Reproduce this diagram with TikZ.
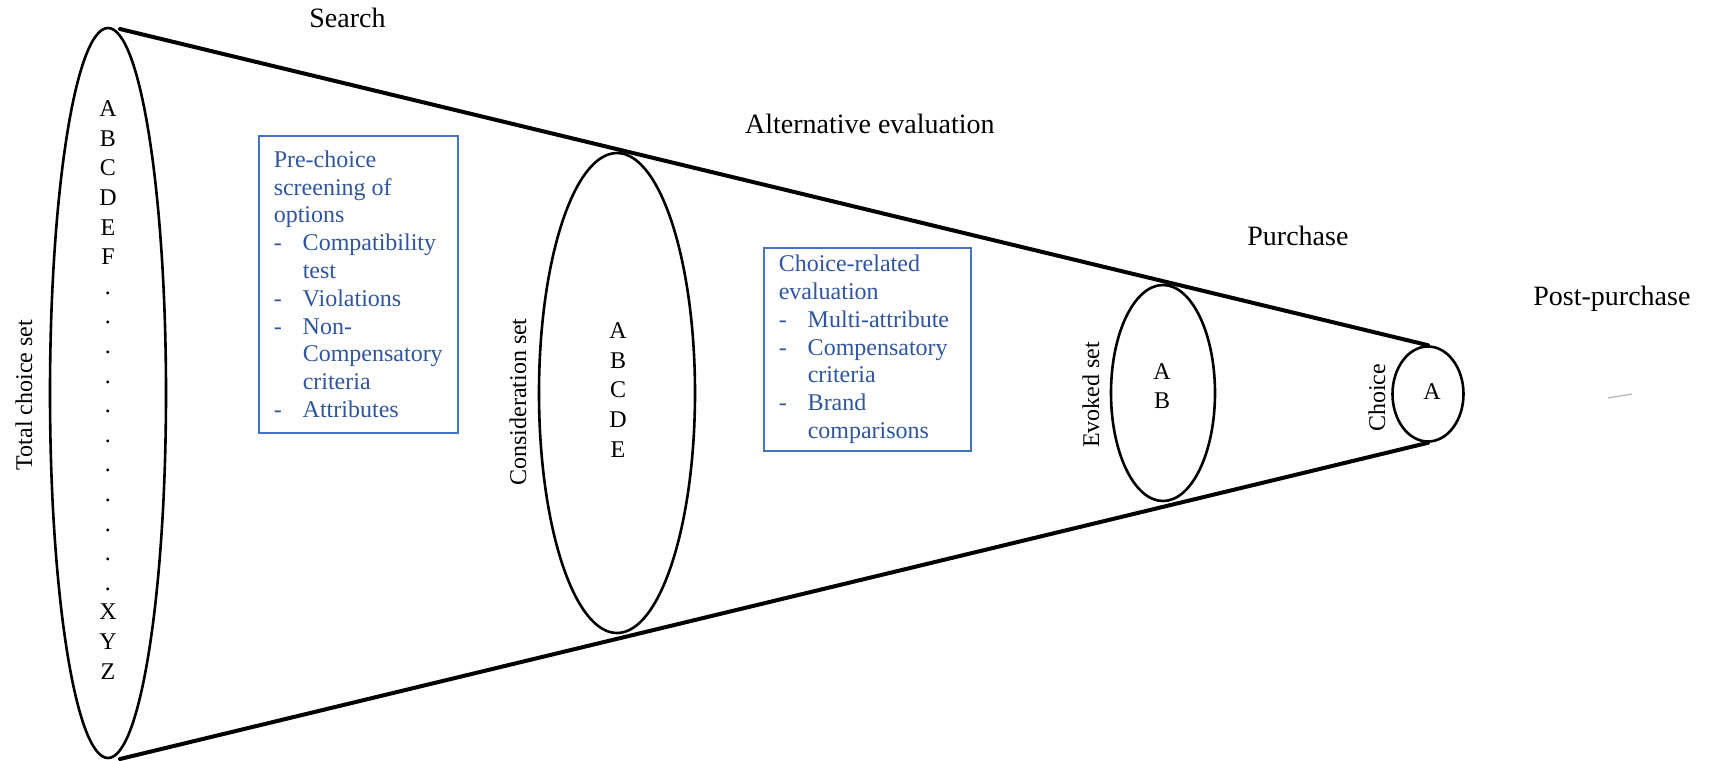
\documentclass[tikz,border=0pt]{standalone}
\usepackage{fontspec}
\setmainfont{Liberation Serif}
\usepackage{xcolor}
\usepackage{tikz}
\usetikzlibrary{shapes.geometric, positioning}
\definecolor{boxblue}{RGB}{68,114,196}
\definecolor{txtblue}{RGB}{47,85,160}
\hyphenpenalty=10000
\newcommand{\dashitem}[1]{\makebox[14.5pt][l]{-}#1}
\newcommand{\contline}[1]{\makebox[14.5pt]{}#1}
\tikzset{
  setring/.style={ellipse, draw=black, line width=1.3pt, inner sep=0pt},
  conewall/.style={line width=2pt, color=black, line cap=round},
  stagelabel/.style={font=\fontsize{14}{16}\selectfont, inner sep=0pt},
  setlabel/.style={font=\fontsize{12}{14}\selectfont, rotate=90, inner sep=0pt},
  itemlist/.style={font=\fontsize{12}{14.8}\selectfont, align=center, inner sep=0pt},
  notebox/.style={rectangle, draw=boxblue, line width=0.75pt, text=txtblue,
    align=flush left, anchor=north west, inner xsep=7.5pt, inner ysep=0pt,
    font=\fontsize{12}{13.9}\selectfont}
}

\begin{document}
\begin{tikzpicture}[x=0.5pt, y=-0.5pt]
  \useasboundingbox (0,0) rectangle (1710,761);

  % Set ellipses
  \node[setring, minimum width=58pt, minimum height=365pt] (total) at (108,393) {};
  \node[setring, minimum width=78pt, minimum height=240pt] (consider) at (617,393) {};
  \node[setring, minimum width=52pt, minimum height=108pt] (evoked) at (1163,393) {};
  \node[setring, minimum width=35.5pt, minimum height=47.5pt] (choice) at (1428,394) {};

  % Funnel walls
  \coordinate (walltop) at (120,29);
  \coordinate (wallbot) at (120,759);
  \draw[conewall] (walltop) -- (choice.north);
  \draw[conewall] (wallbot) -- (choice.south);

  % Members of each set
  \node[itemlist] (totalitems) at (108,390) {A\\B\\C\\D\\E\\F\\.\\.\\.\\.\\.\\.\\.\\.\\.\\.\\.\\X\\Y\\Z};
  \node[itemlist] (consideritems) at (618,390) {A\\B\\C\\D\\E};
  \node[itemlist] (evokeditems) at (1162,386) {A\\B};
  \node[itemlist] (choiceitems) at (1432,392) {A};

  % Set names
  \node[setlabel] (totallabel) at (24,395) {Total choice set};
  \node[setlabel] (considerlabel) at (518,402) {Consideration set};
  \node[setlabel] (evokedlabel) at (1091,395) {Evoked set};
  \node[setlabel] (choicelabel) at (1377,398) {Choice};

  % Stages
  \node[stagelabel, anchor=base west] (search) at (309,27) {Search};
  \node[stagelabel, anchor=base east] (alteval) at (995,133) {Alternative evaluation};
  \node[stagelabel, anchor=base west] (purchase) at (1247,245) {Purchase};
  \node[stagelabel, anchor=base west] (postpurchase) at (1533,305) {Post-purchase};

  % Notes
  \node[notebox, text width=84.5pt, minimum width=99.5pt, minimum height=148.5pt] (screening) at (258,135) {
    Pre-choice\\
    screening of\\
    options\\
    \dashitem{Compatibility}\\
    \contline{test}\\
    \dashitem{Violations}\\
    \dashitem{Non-}\\
    \contline{Compensatory}\\
    \contline{criteria}\\
    \dashitem{Attributes}
  };
  \node[notebox, text width=88.5pt, minimum width=103.5pt, minimum height=101.5pt] (evaluation) at (763,247) {
    Choice-related\\
    evaluation\\
    \dashitem{Multi-attribute}\\
    \dashitem{Compensatory}\\
    \contline{criteria}\\
    \dashitem{Brand}\\
    \contline{comparisons}
  };

  % stray mark
  \draw[gray!60, line width=0.6pt] (1608,398) -- (1632,394);
\end{tikzpicture}
\end{document}
